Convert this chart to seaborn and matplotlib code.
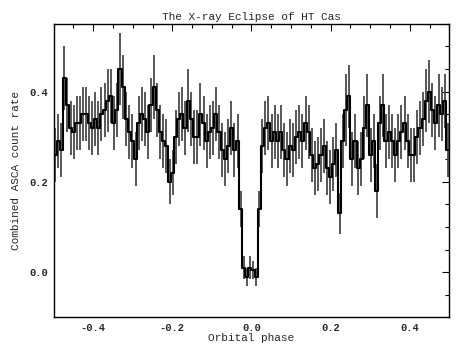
import numpy as np
import pandas as pd
import matplotlib
matplotlib.use("Agg")
import matplotlib.pyplot as plt
import seaborn as sns
from matplotlib.ticker import MultipleLocator

# Light curve: 128 phase bins, count rate and 1-sigma errors
n_bins = 128
rate = [
    0.26, 0.29, 0.27, 0.43, 0.37, 0.32, 0.31, 0.33, 0.33, 0.35,
    0.35, 0.33, 0.32, 0.34, 0.32, 0.35, 0.36, 0.38, 0.39, 0.33,
    0.36, 0.45, 0.41, 0.34, 0.31, 0.29, 0.25, 0.33, 0.35, 0.34,
    0.31, 0.37, 0.41, 0.36, 0.31, 0.29, 0.28, 0.20, 0.22, 0.30,
    0.34, 0.35, 0.32, 0.38, 0.34, 0.30, 0.30, 0.35, 0.33, 0.29,
    0.31, 0.32, 0.35, 0.31, 0.27, 0.25, 0.28, 0.32, 0.27, 0.29,
    0.14, 0.01, -0.01, 0.01, 0.005, -0.01, 0.14, 0.28, 0.32, 0.33,
    0.29, 0.31, 0.29, 0.31, 0.27, 0.25, 0.28, 0.27, 0.30, 0.31,
    0.29, 0.33, 0.31, 0.26, 0.23, 0.24, 0.26, 0.28, 0.23, 0.21,
    0.24, 0.27, 0.13, 0.29, 0.36, 0.39, 0.25, 0.29, 0.23, 0.25,
    0.32, 0.37, 0.26, 0.29, 0.18, 0.33, 0.37, 0.29, 0.31, 0.29,
    0.26, 0.29, 0.31, 0.33, 0.29, 0.26, 0.26, 0.30, 0.32, 0.34,
    0.38, 0.40, 0.36, 0.33, 0.37, 0.35, 0.38, 0.27,
]
rate_err = [
    0.06, 0.06, 0.06, 0.07, 0.06, 0.06, 0.06, 0.06, 0.06, 0.06,
    0.06, 0.06, 0.06, 0.06, 0.06, 0.06, 0.06, 0.07, 0.06, 0.06,
    0.06, 0.08, 0.07, 0.06, 0.06, 0.06, 0.06, 0.06, 0.06, 0.06,
    0.06, 0.06, 0.07, 0.06, 0.06, 0.06, 0.06, 0.05, 0.05, 0.06,
    0.06, 0.06, 0.06, 0.07, 0.06, 0.06, 0.06, 0.07, 0.06, 0.06,
    0.06, 0.06, 0.06, 0.06, 0.06, 0.06, 0.06, 0.06, 0.06, 0.06,
    0.04, 0.025, 0.02, 0.025, 0.02, 0.02, 0.04, 0.06, 0.06, 0.06,
    0.06, 0.06, 0.06, 0.06, 0.06, 0.06, 0.06, 0.06, 0.06, 0.06,
    0.06, 0.06, 0.06, 0.06, 0.06, 0.06, 0.06, 0.06, 0.06, 0.06,
    0.06, 0.06, 0.045, 0.06, 0.08, 0.07, 0.06, 0.06, 0.06, 0.06,
    0.07, 0.07, 0.06, 0.06, 0.06, 0.06, 0.07, 0.06, 0.06, 0.06,
    0.06, 0.06, 0.06, 0.06, 0.06, 0.06, 0.06, 0.06, 0.06, 0.06,
    0.07, 0.07, 0.06, 0.06, 0.07, 0.06, 0.06, 0.06,
]
phase = -0.5 + (np.arange(n_bins) + 0.5) / n_bins

df = pd.DataFrame({"phase": phase, "rate": rate, "err": rate_err})

sns.set_style("white")
plt.rcParams["font.family"] = ["Liberation Mono", "DejaVu Sans Mono"]
plt.rcParams["font.weight"] = "bold"

fig = plt.figure(figsize=(4.74, 3.62), dpi=100)
ax = fig.add_axes([0.113, 0.1235, 0.835, 0.8105])

ax.errorbar(df["phase"], df["rate"], yerr=df["err"], fmt="none",
            ecolor="#4a4a4a", elinewidth=1.3, capsize=0)
sns.lineplot(data=df, x="phase", y="rate", ax=ax, color="black",
             drawstyle="steps-mid", linewidth=1.5, estimator=None, sort=False)

ax.set_xlim(-0.5, 0.5)
ax.set_ylim(-0.1, 0.55)
ax.xaxis.set_major_locator(MultipleLocator(0.2))
ax.xaxis.set_minor_locator(MultipleLocator(0.05))
ax.yaxis.set_major_locator(MultipleLocator(0.2))
ax.yaxis.set_minor_locator(MultipleLocator(0.05))
ax.xaxis.set_major_formatter(plt.FuncFormatter(lambda v, p: f"{v:.1f}"))
ax.yaxis.set_major_formatter(plt.FuncFormatter(lambda v, p: f"{v:.1f}"))
ax.tick_params(which="both", direction="in", top=True, right=True,
               labelsize=7.5, color="black", pad=4)
ax.tick_params(which="major", length=5, width=0.8)
ax.tick_params(which="minor", length=3, width=0.8)
for s in ax.spines.values():
    s.set_color("black")
    s.set_linewidth(1.0)

ax.set_title("The X-ray Eclipse of HT Cas", fontsize=8, pad=3)
ax.set_xlabel("Orbital phase", fontsize=8, labelpad=0)
ax.set_ylabel("Combined ASCA count rate", fontsize=8, labelpad=6)

fig.savefig("out.png", dpi=100)
